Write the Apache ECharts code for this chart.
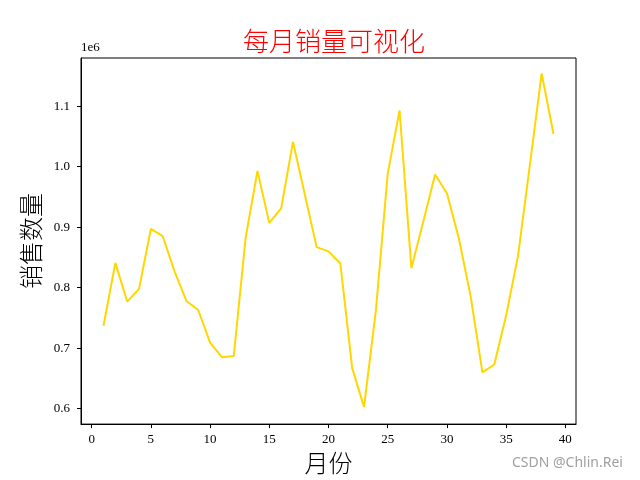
<!DOCTYPE html>
<html>
<head>
<meta charset="utf-8">
<script src="https://cdn.jsdelivr.net/npm/echarts@6/dist/echarts.min.js"></script>
<style>html,body{margin:0;padding:0;background:#fff}#c{width:640px;height:480px}</style>
</head>
<body>
<div id="c"></div>
<script>
const months = [1,2,3,4,5,6,7,8,9,10,11,12,13,14,15,16,17,18,19,20,21,22,23,24,25,26,27,28,29,30,31,32,33,34,35,36,37,38,39];
const sales = [737000,841000,777000,798000,897000,885000,827000,778000,763000,709000,685000,687000,882000,
  993000,907000,931000,1041000,954000,867000,860000,840000,667000,603000,762000,988000,1093000,832000,909000,
  987000,956000,882000,786000,660000,673000,754000,852000,1002000,1154000,1054000];
const xTicks = [0,5,10,15,20,25,30,35,40];
const yTicks = [600000,700000,800000,900000,1000000,1100000];

const serif = '"Liberation Serif", "DejaVu Serif", serif';
const cjk = '"Noto Sans CJK SC", sans-serif';

const chart = echarts.init(document.getElementById('c'), null, {renderer:'canvas'});
chart.setOption({
  animation: false,
  backgroundColor: '#fff',
  title: {
    text: '每月销量可视化',
    left: 329, top: 23, textAlign: 'center',
    textStyle: {color: '#ff0000', fontFamily: cjk, fontSize: 26, fontWeight: 300}
  },
  grid: {left: 81, right: 64, top: 58, bottom: 53, show: true, borderColor: '#000', borderWidth: 1, backgroundColor: 'transparent'},
  xAxis: {
    type: 'value', min: -0.9, max: 40.9,
    name: '月份', nameLocation: 'middle', nameGap: 26,
    nameTextStyle: {fontFamily: cjk, fontSize: 24, color: '#000', fontWeight: 300},
    splitLine: {show: false},
    axisLine: {show: true, onZero: false, lineStyle: {color: '#000'}},
    axisTick: {show: true, length: 4, lineStyle: {color: '#000'}, customValues: xTicks},
    axisLabel: {fontFamily: serif, fontSize: 13, color: '#000', margin: 9, customValues: xTicks}
  },
  yAxis: {
    type: 'value', min: 574500, max: 1179500,
    name: '销售数量', nameLocation: 'middle', nameGap: 38, nameRotate: 90,
    nameTextStyle: {fontFamily: cjk, fontSize: 24, color: '#000', fontWeight: 300},
    splitLine: {show: false},
    axisLine: {show: true, onZero: false, lineStyle: {color: '#000'}},
    axisTick: {show: true, length: 4, lineStyle: {color: '#000'}, customValues: yTicks},
    axisLabel: {fontFamily: serif, fontSize: 13, color: '#000', margin: 11, customValues: yTicks,
      formatter: v => (v/1e6).toFixed(1)}
  },
  graphic: [
    {type: 'text', left: 81, top: 41, style: {text: '1e6', font: '13px ' + serif, fill: '#000'}},
    {type: 'text', left: 512, top: 456, style: {text: 'CSDN @Chlin.Rei', font: '14px "Noto Sans", sans-serif', fill: '#a0a0a0'}}
  ],
  series: [{
    type: 'line',
    data: months.map((m, i) => [m, sales[i]]),
    showSymbol: false,
    lineStyle: {color: '#FFD700', width: 2},
    itemStyle: {color: '#FFD700'}
  }]
});
</script>
</body>
</html>
